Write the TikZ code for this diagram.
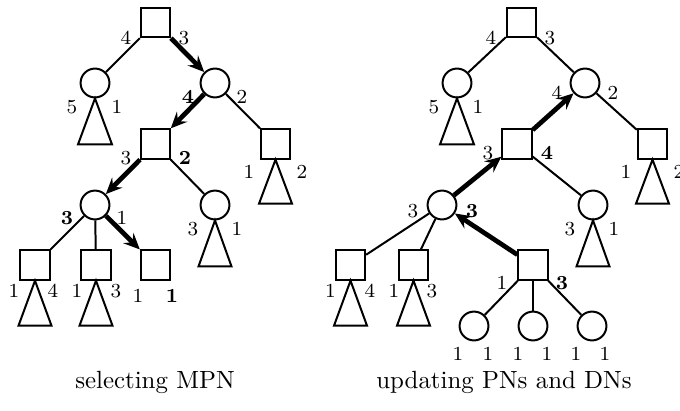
\documentclass[tikz,border=0pt]{standalone}
\usetikzlibrary{arrows,arrows.meta}

\tikzset{
    sq/.style={draw, thick, minimum size=11.8pt, inner sep=0pt},
    circ/.style={draw, thick, circle, minimum size=11.6pt, inner sep=0pt},
    lab/.style={font=\footnotesize, inner sep=0pt},
    mpn/.style={-{Stealth[length=6.5pt, width=5.8pt, inset=2.4pt]}, line width=1.9pt},
}

\begin{document}
\begin{tikzpicture}[x=0.402pt, y=-0.402pt]
                \useasboundingbox (0, 0) rectangle (680, 410);
                % --------
                % selecting MPN
                % --------
                \node[sq] at (155.5, 22.5) (lroot) {};
                \node[circ] at (95, 83) (lc1) {};
                \node[circ] at (215, 83) (lc2) {};
                \node[sq] at (155.5, 144) (ls1) {};
                \node[sq] at (275.5, 144) (ls2) {};
                \node[circ] at (95, 205) (lc3) {};
                \node[circ] at (215, 205) (lc4) {};
                \node[sq] at (35, 265) (ls3) {};
                \node[sq] at (96, 265) (ls4) {};
                \node[sq] at (155.5, 265) (ls5) {};

                % Draw line
                \draw[thick] (lroot) -- (lc1);
                \draw[mpn] (lroot) -- (lc2);
                \draw[mpn] (lc2) -- (ls1);
                \draw[thick] (lc2) -- (ls2);
                \draw[mpn] (ls1) -- (lc3);
                \draw[thick] (ls1) -- (lc4);
                \draw[thick] (lc3) -- (ls3);
                \draw[thick] (lc3) -- (ls4);
                \draw[mpn] (lc3) -- (ls5);

                % subtrees
                \draw[thick] (lc1.south) -- ++(-17, 46) -- ++(34, 0) -- cycle;
                \draw[thick] (ls2.south) -- ++(-16.5, 44) -- ++(33, 0) -- cycle;
                \draw[thick] (lc4.south) -- ++(-16.5, 46) -- ++(33, 0) -- cycle;
                \draw[thick] (ls3.south) -- ++(-16.5, 45) -- ++(33, 0) -- cycle;
                \draw[thick] (ls4.south) -- ++(-16.5, 45) -- ++(33, 0) -- cycle;

                % numbers
                \node[lab] at (126, 38) (lroot-w) {4};
                \node[lab] at (184, 38) (lroot-e) {3};
                \node[lab] at (72, 107) (lc1-w) {5};
                \node[lab] at (117, 107) (lc1-e) {1};
                \node[lab] at (188, 97) (lc2-w) {\textbf{4}};
                \node[lab] at (242, 97) (lc2-e) {2};
                \node[lab] at (126, 158) (ls1-w) {3};
                \node[lab] at (185, 158) (ls1-e) {\textbf{2}};
                \node[lab] at (249, 172) (ls2-w) {1};
                \node[lab] at (302, 172) (ls2-e) {2};
                \node[lab] at (67, 218) (lc3-w) {\textbf{3}};
                \node[lab] at (122, 218) (lc3-e) {1};
                \node[lab] at (193, 229) (lc4-w) {3};
                \node[lab] at (237, 229) (lc4-e) {1};
                \node[lab] at (14, 291) (ls3-w) {1};
                \node[lab] at (53, 291) (ls3-e) {4};
                \node[lab] at (77, 291) (ls4-w) {1};
                \node[lab] at (116, 291) (ls4-e) {3};
                \node[lab] at (138, 296) (ls5-w) {1};
                \node[lab] at (172, 296) (ls5-e) {\textbf{1}};

                \node at (155, 382) (lcap) {selecting MPN};

                % --------
                % updating PNs and DNs
                % --------
                \node[sq] at (521.5, 22.5) (rroot) {};
                \node[circ] at (457, 83) (rc1) {};
                \node[circ] at (585, 83) (rc2) {};
                \node[sq] at (517, 144) (rs1) {};
                \node[sq] at (652.5, 144) (rs2) {};
                \node[circ] at (442, 205) (rc3) {};
                \node[circ] at (593, 205) (rc4) {};
                \node[sq] at (350.5, 265) (rs3) {};
                \node[sq] at (413.5, 265) (rs4) {};
                \node[sq] at (533, 265) (rs5) {};
                \node[circ] at (474, 326) (rc5) {};
                \node[circ] at (533, 326) (rc6) {};
                \node[circ] at (592, 326) (rc7) {};

                % Draw line
                \draw[thick] (rroot) -- (rc1);
                \draw[thick] (rroot) -- (rc2);
                \draw[mpn] (rs1) -- (rc2);
                \draw[thick] (rc2) -- (rs2);
                \draw[mpn] (rc3) -- (rs1);
                \draw[thick] (rs1) -- (rc4);
                \draw[thick] (rc3) -- (rs3);
                \draw[thick] (rc3) -- (rs4);
                \draw[mpn] (rs5) -- (rc3);
                \draw[thick] (rs5) -- (rc5);
                \draw[thick] (rs5) -- (rc6);
                \draw[thick] (rs5) -- (rc7);

                % subtrees
                \draw[thick] (rc1.south) -- ++(-17, 46) -- ++(34, 0) -- cycle;
                \draw[thick] (rs2.south) -- ++(-16.5, 44) -- ++(33, 0) -- cycle;
                \draw[thick] (rc4.south) -- ++(-16.5, 46) -- ++(33, 0) -- cycle;
                \draw[thick] (rs3.south) -- ++(-16.5, 45) -- ++(33, 0) -- cycle;
                \draw[thick] (rs4.south) -- ++(-16.5, 45) -- ++(33, 0) -- cycle;

                % numbers
                \node[lab] at (491, 38) (rroot-w) {4};
                \node[lab] at (550, 38) (rroot-e) {3};
                \node[lab] at (434, 107) (rc1-w) {5};
                \node[lab] at (478, 107) (rc1-e) {1};
                \node[lab] at (557, 93) (rc2-w) {4};
                \node[lab] at (613, 93) (rc2-e) {2};
                \node[lab] at (488, 153) (rs1-w) {3};
                \node[lab] at (547, 153) (rs1-e) {\textbf{4}};
                \node[lab] at (626, 172) (rs2-w) {1};
                \node[lab] at (679, 172) (rs2-e) {2};
                \node[lab] at (413, 211) (rc3-w) {3};
                \node[lab] at (472, 211) (rc3-e) {\textbf{3}};
                \node[lab] at (570, 229) (rc4-w) {3};
                \node[lab] at (614, 229) (rc4-e) {1};
                \node[lab] at (330.5, 291) (rs3-w) {1};
                \node[lab] at (370, 291) (rs3-e) {4};
                \node[lab] at (394, 291) (rs4-w) {1};
                \node[lab] at (432, 291) (rs4-e) {3};
                \node[lab] at (502, 283) (rs5-w) {1};
                \node[lab] at (562, 283) (rs5-e) {\textbf{3}};
                \node[lab] at (458, 354) (rc5-w) {1};
                \node[lab] at (488, 354) (rc5-e) {1};
                \node[lab] at (518, 354) (rc6-w) {1};
                \node[lab] at (547, 354) (rc6-e) {1};
                \node[lab] at (576, 354) (rc7-w) {1};
                \node[lab] at (605, 354) (rc7-e) {1};

                \node at (504, 382) (rcap) {updating PNs and DNs};
\end{tikzpicture}
\end{document}
